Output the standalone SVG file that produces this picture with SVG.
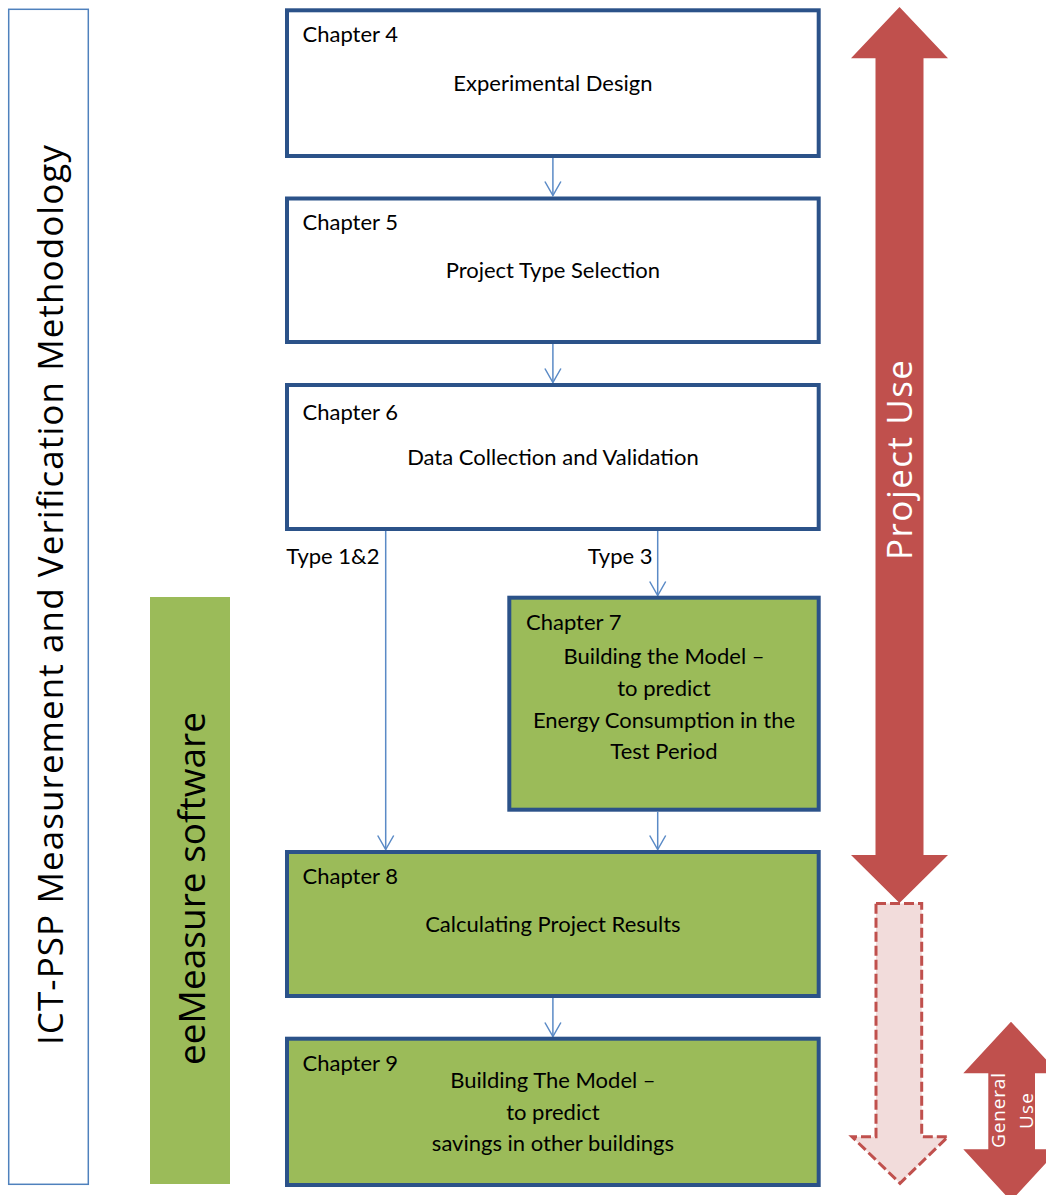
<svg xmlns="http://www.w3.org/2000/svg" width="1046" height="1195" viewBox="0 0 1046 1195">
  <defs>
    <style>
      .box { stroke: #2B5289; stroke-width: 4; }
      .plain { fill: #FFFFFF; }
      .green { fill: #9BBB59; }
      .lbl { font-family: Lato, "Liberation Sans", sans-serif; font-size: 22px; fill: #000000; }
      .mid { text-anchor: middle; }
      .end { text-anchor: end; }
      .vert { font-family: "Open Sans", "Liberation Sans", sans-serif; text-anchor: middle; }
      .conn { stroke: #5A8AC6; stroke-width: 1.5; fill: none; marker-end: url(#vhead); }
      .red { fill: #C0504D; }
    </style>
    <marker id="vhead" markerUnits="userSpaceOnUse" markerWidth="20" markerHeight="20" refX="0" refY="0" orient="auto" overflow="visible">
      <path d="M-14,-8 L0,0 L-14,8" fill="none" stroke="#5A8AC6" stroke-width="1.5"/>
    </marker>
  </defs>

  <!-- methodology frame -->
  <g id="methodology">
    <rect x="8.7" y="9.3" width="79.6" height="1175" fill="#FFFFFF" stroke="#4F81BD" stroke-width="1.5"/>
    <text class="vert" font-size="35" fill="#000000" textLength="900" lengthAdjust="spacing" transform="translate(62.5,595) rotate(-90)">ICT-PSP Measurement and Verification Methodology</text>
  </g>

  <!-- software bar -->
  <g id="software">
    <rect x="150" y="597" width="80" height="587" fill="#9BBB59"/>
    <text class="vert" font-size="37" fill="#000000" textLength="353" lengthAdjust="spacing" transform="translate(205,888.5) rotate(-90)">eeMeasure software</text>
  </g>

  <!-- connectors -->
  <g id="connectors">
    <line class="conn" x1="552.9" y1="158" x2="552.9" y2="195.5"/>
    <line class="conn" x1="552.9" y1="344" x2="552.9" y2="382.5"/>
    <line class="conn" x1="385.7" y1="531" x2="385.7" y2="849.5"/>
    <line class="conn" x1="657.7" y1="531" x2="657.7" y2="595.5"/>
    <line class="conn" x1="657.7" y1="812" x2="657.7" y2="849.5"/>
    <line class="conn" x1="552.9" y1="998" x2="552.9" y2="1036.5"/>
    <text class="lbl end" x="379.5" y="563.5">Type 1&amp;2</text>
    <text class="lbl end" x="652.5" y="563.5">Type 3</text>
  </g>

  <g id="ch4">
    <rect class="box plain" x="287" y="10.3" width="531.7" height="145.7"/>
    <text class="lbl" x="302.5" y="42">Chapter 4</text>
    <text class="lbl mid" x="552.9" y="91">Experimental Design</text>
  </g>

  <g id="ch5">
    <rect class="box plain" x="287" y="198.5" width="531.7" height="143.5"/>
    <text class="lbl" x="302.5" y="229.5">Chapter 5</text>
    <text class="lbl mid" x="552.9" y="278">Project Type Selection</text>
  </g>

  <g id="ch6">
    <rect class="box plain" x="287" y="385" width="531.7" height="144"/>
    <text class="lbl" x="302.5" y="420">Chapter 6</text>
    <text class="lbl mid" x="552.9" y="465">Data Collection and Validation</text>
  </g>

  <g id="ch7">
    <rect class="box green" x="509.3" y="597.7" width="309.4" height="212"/>
    <text class="lbl" x="526" y="630">Chapter 7</text>
    <text class="lbl mid" x="664" y="664">Building the Model –</text>
    <text class="lbl mid" x="664" y="696">to predict</text>
    <text class="lbl mid" x="664" y="727.7">Energy Consumption in the</text>
    <text class="lbl mid" x="664" y="759.3">Test Period</text>
  </g>

  <g id="ch8">
    <rect class="box green" x="287" y="852" width="531.7" height="144"/>
    <text class="lbl" x="302.5" y="884">Chapter 8</text>
    <text class="lbl mid" x="552.9" y="932">Calculating Project Results</text>
  </g>

  <g id="ch9">
    <rect class="box green" x="287" y="1038.7" width="531.7" height="146.3"/>
    <text class="lbl" x="302.5" y="1070.7">Chapter 9</text>
    <text class="lbl mid" x="552.9" y="1088.3">Building The Model –</text>
    <text class="lbl mid" x="552.9" y="1119.5">to predict</text>
    <text class="lbl mid" x="552.9" y="1150.5">savings in other buildings</text>
  </g>

  <!-- project scope arrow -->
  <g id="project-use">
    <polygon class="red" points="899.5,7 948,58.3 923.5,58.3 923.5,855 948,855 899.5,903 851,855 875.5,855 875.5,58.3 851,58.3"/>
    <text class="vert" font-size="35" fill="#FFFFFF" textLength="200" lengthAdjust="spacing" transform="translate(911.5,460) rotate(-90)">Project Use</text>
  </g>

  <!-- extended scope arrow -->
  <g id="extended-use">
    <polygon points="876,903.5 921.7,903.5 921.7,1136.7 948,1136.7 900,1183.3 852,1136.7 876,1136.7" fill="#F2DCDB" stroke="#C0504D" stroke-width="3" stroke-dasharray="10,4"/>
  </g>

  <!-- general scope arrow -->
  <g id="general-use">
    <polygon class="red" points="1011,1021.7 1058.7,1073.3 1035,1073.3 1035,1149.3 1058.7,1149.3 1011,1201 963.3,1149.3 988.3,1149.3 988.3,1073.3 963.3,1073.3"/>
    <text class="vert" font-size="19" fill="#FFFFFF" textLength="75" lengthAdjust="spacing" transform="translate(1005,1110.5) rotate(-90)">General</text>
    <text class="vert" font-size="19" fill="#FFFFFF" textLength="36" lengthAdjust="spacing" transform="translate(1033,1111) rotate(-90)">Use</text>
  </g>
</svg>
